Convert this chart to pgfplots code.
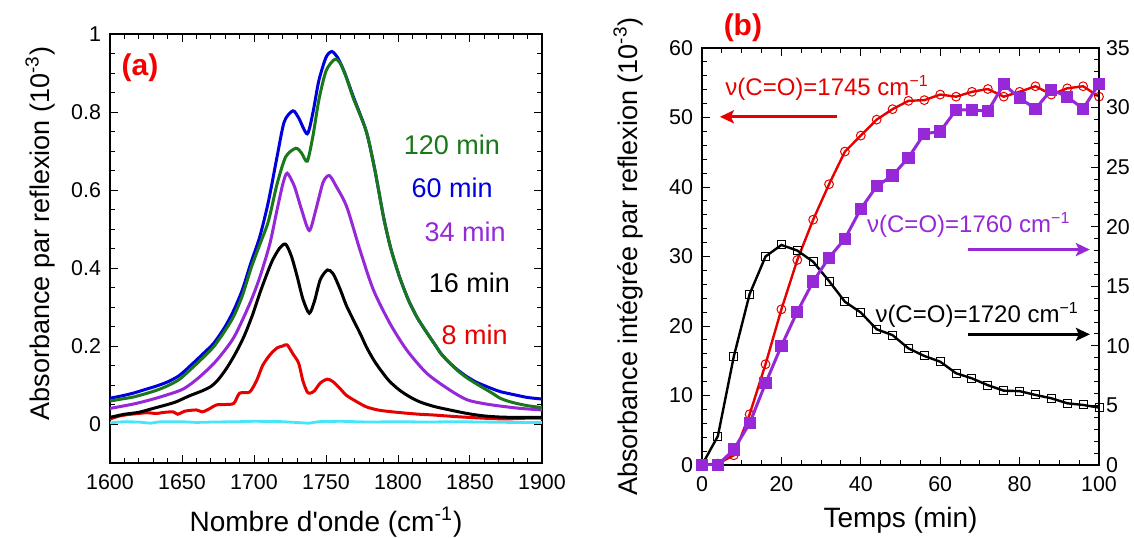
\documentclass[border=0pt]{standalone}
\usepackage{fontspec}
\setmainfont{Liberation Sans}
\usepackage{pgfplots}
\pgfplotsset{compat=1.18}
\usetikzlibrary{arrows.meta}
\definecolor{cblue}{RGB}{0,0,220}
\definecolor{cgreen}{RGB}{25,120,25}
\definecolor{cpurple}{RGB}{150,40,215}
\definecolor{cred}{RGB}{230,0,0}
\definecolor{ccyan}{RGB}{70,230,250}
\definecolor{lred}{RGB}{245,0,0}
\pgfplotsset{
  common/.style={
    scale only axis,
    anchor=south west,
    /pgf/number format/assume math mode=true,
    /pgf/number format/1000 sep={},
    tick align=inside,
    major tick length=4pt,
    minor tick length=2.3pt,
    every tick/.style={black, line width=0.5pt},
    axis line style={line width=0.6pt},
    tick label style={font=\fontsize{10.7}{12}\selectfont},
    yticklabel style={xshift=-1pt},
    xticklabel style={yshift=-2pt},
    xlabel style={font=\fontsize{14}{16}\selectfont},
    ylabel style={font=\fontsize{13.5}{15}\selectfont},
  }
}
\begin{document}
\begin{tikzpicture}
\path[use as bounding box] (0,0) rectangle (567pt,268.5pt);
% ---------------- panel (a)
\begin{axis}[common,
  at={(55pt,37pt)}, width=216pt, height=214.5pt,
  xmin=1600, xmax=1900, ymin=-0.1, ymax=1,
  xtick={1600,1650,...,1900}, minor x tick num=4,
  ytick={0,0.2,0.4,0.6,0.8,1}, minor y tick num=3,
  xlabel={Nombre d\textquotesingle onde (cm\textsuperscript{-1})},
  ylabel={Absorbance par reflexion (10\textsuperscript{-3})},
  xlabel style={at={(axis description cs:0.5,-0.1375)}, anchor=center},
  ylabel style={at={(axis description cs:-0.162,0.535)}, anchor=center},
  every axis plot/.append style={line width=1.5pt, smooth, tension=0.45},
]
\addplot[ccyan, line width=1.4pt, sharp plot] coordinates {
(1600,0.003)(1610,0.006)(1620,0.005)(1628,0.002)(1635,0.006)(1650,0.006)(1660,0.004)(1670,0.005)(1690,0.006)(1700,0.007)(1720,0.006)(1738,0.002)(1745,0.006)(1760,0.007)(1780,0.005)(1800,0.006)(1820,0.005)(1840,0.006)(1860,0.005)(1880,0.004)(1900,0.004)};
\addplot[cred] coordinates {
(1600,0.013)(1606,0.020)(1612,0.024)(1620,0.027)(1626,0.029)(1632,0.027)(1638,0.030)(1644,0.031)(1647,0.025)(1652,0.033)(1660,0.036)(1664,0.031)(1668,0.037)(1674,0.049)(1680,0.050)(1686,0.053)(1690,0.079)(1697,0.082)(1702,0.113)(1706,0.150)(1711,0.177)(1716,0.195)(1720,0.200)(1723,0.203)(1727,0.180)(1731,0.156)(1734,0.110)(1737,0.082)(1739,0.079)(1742,0.085)(1746,0.105)(1751,0.115)(1755,0.108)(1760,0.090)(1764,0.074)(1770,0.060)(1778,0.044)(1786,0.036)(1794,0.032)(1805,0.028)(1815,0.025)(1825,0.023)(1840,0.019)(1859,0.015)(1875,0.013)(1890,0.015)(1900,0.015)};
\addplot[black] coordinates {
(1600,0.017)(1610,0.025)(1620,0.030)(1630,0.040)(1640,0.050)(1646,0.057)(1655,0.072)(1664,0.085)(1670,0.096)(1675,0.113)(1681,0.143)(1687,0.180)(1693,0.224)(1699,0.280)(1704,0.335)(1709,0.385)(1713,0.421)(1718,0.452)(1722,0.461)(1726,0.430)(1730,0.378)(1734,0.320)(1738.4,0.284)(1742,0.315)(1746,0.370)(1751,0.395)(1755,0.385)(1760,0.344)(1764,0.305)(1769,0.267)(1774,0.230)(1778,0.198)(1783,0.165)(1788,0.138)(1794,0.110)(1801,0.087)(1808,0.070)(1815,0.057)(1825,0.045)(1836,0.036)(1848,0.027)(1859,0.021)(1870,0.018)(1880,0.017)(1890,0.017)(1900,0.017)};
\addplot[cpurple] coordinates {
(1600,0.040)(1616,0.051)(1628,0.062)(1639,0.074)(1651,0.090)(1662,0.120)(1674,0.163)(1686,0.222)(1697,0.308)(1704,0.376)(1711,0.462)(1716,0.549)(1720,0.615)(1723,0.643)(1728,0.610)(1733,0.550)(1738.4,0.496)(1743,0.550)(1748,0.620)(1752.3,0.637)(1757,0.610)(1764.4,0.557)(1773.6,0.446)(1782.9,0.344)(1794.4,0.258)(1806,0.190)(1820,0.130)(1836,0.087)(1848,0.062)(1860,0.052)(1871,0.046)(1885,0.040)(1900,0.036)};
\addplot[cblue] coordinates {
(1600,0.066)(1608,0.072)(1616,0.079)(1624,0.088)(1632,0.097)(1640,0.108)(1648,0.124)(1656,0.150)(1664,0.178)(1672,0.207)(1680,0.250)(1686,0.292)(1692,0.345)(1698,0.415)(1704,0.480)(1710,0.570)(1716,0.685)(1721,0.775)(1727,0.803)(1731,0.785)(1737,0.744)(1741,0.800)(1745,0.880)(1750,0.940)(1754,0.955)(1758,0.940)(1763,0.900)(1769,0.839)(1778,0.750)(1784,0.650)(1790,0.530)(1795,0.450)(1801,0.378)(1807,0.320)(1813,0.275)(1819,0.240)(1825,0.207)(1830,0.180)(1836,0.156)(1842,0.137)(1848,0.121)(1854,0.108)(1859,0.100)(1865,0.091)(1871,0.083)(1877,0.078)(1882,0.074)(1890,0.068)(1900,0.064)};
\addplot[cgreen] coordinates {
(1600,0.059)(1608,0.064)(1616,0.069)(1624,0.077)(1632,0.086)(1640,0.098)(1648,0.114)(1656,0.140)(1664,0.168)(1672,0.198)(1680,0.240)(1686,0.277)(1692,0.330)(1698,0.400)(1704,0.460)(1710,0.520)(1716,0.615)(1722,0.685)(1729,0.707)(1733,0.695)(1737,0.674)(1741,0.740)(1745,0.830)(1750,0.905)(1756,0.935)(1760,0.925)(1764,0.890)(1769,0.835)(1778,0.750)(1784,0.650)(1790,0.530)(1795,0.450)(1801,0.378)(1807,0.320)(1813,0.275)(1819,0.240)(1825,0.207)(1830,0.180)(1836,0.156)(1842,0.135)(1848,0.118)(1854,0.104)(1859,0.093)(1865,0.080)(1871,0.066)(1877,0.058)(1882,0.053)(1890,0.047)(1900,0.042)};
\node[text=lred, font=\fontsize{15}{17}\selectfont\bfseries] at (axis cs:1620.8,0.913) {(a)};
\begin{scope}[every node/.style={anchor=east, inner sep=0pt, font=\fontsize{13.5}{15}\selectfont}]
\node[text=cgreen] at (axis cs:1871,0.715) {120 min};
\node[text=cblue] at (axis cs:1866,0.605) {60 min};
\node[text=cpurple] at (axis cs:1875,0.492) {34 min};
\node[text=black] at (axis cs:1878,0.362) {16 min};
\node[text=cred] at (axis cs:1876.5,0.228) {8 min};
\end{scope}
\end{axis}
% ---------------- panel (b), left axis
\begin{axis}[common,
  at={(351pt,36pt)}, width=198.5pt, height=208.5pt,
  xmin=0, xmax=100, ymin=0, ymax=60,
  xtick={0,20,...,100}, minor x tick num=3,
  ytick={0,10,...,60}, minor y tick num=4,
  xtick pos=both, ytick pos=left,
  clip=false,
  xlabel={Temps (min)},
  ylabel={Absorbance intégrée par reflexion (10\textsuperscript{-3})},
  xlabel style={at={(axis description cs:0.5,-0.132)}, anchor=center},
  ylabel style={at={(axis description cs:-0.186,0.5)}, anchor=center},
]
\addplot[cred, line width=1.2pt, mark=o, mark size=2.2pt, mark options={line width=0.5pt}] coordinates {
(0,0)(4,0.2)(8,1.4)(12,7.3)(16,14.5)(20,22.4)(24,29.5)(28,35.3)(32,40.4)(36,45.1)(40,47.4)(44,49.7)(48,51.2)(52,52.4)(56,52.5)(60,53.3)(64,53.0)(68,53.7)(72,54.1)(76,53.0)(80,53.7)(84,54.5)(88,53.3)(92,54.2)(96,54.5)(100,53.0)};
\begin{scope}[every node/.style={anchor=west, inner sep=0pt, font=\fontsize{12}{14}\selectfont}]
\node[text=cred] at (axis cs:5.8,54.2) {ν(C=O)=1745 cm\textsuperscript{−1}};
\node[text=cpurple] at (axis cs:41.5,34.5) {ν(C=O)=1760 cm\textsuperscript{−1}};
\node[text=black] at (axis cs:43.6,21.6) {ν(C=O)=1720 cm\textsuperscript{−1}};
\end{scope}
\draw[cred, line width=1.5pt, -{Stealth[length=7pt,width=6.5pt,inset=1.5pt]}] (axis cs:34,50.1) -- (axis cs:4.5,50.1);
\draw[cpurple, line width=1.5pt, -{Stealth[length=7pt,width=6.5pt,inset=1.5pt]}] (axis cs:67.1,31.0) -- (axis cs:97.7,31.0);
\draw[black, line width=1.5pt, -{Stealth[length=7pt,width=6.5pt,inset=1.5pt]}] (axis cs:67.1,18.8) -- (axis cs:97.7,18.8);
\node[text=lred, font=\fontsize{15}{17}\selectfont\bfseries] at (axis cs:10.3,62.9) {(b)};
\end{axis}
% ---------------- panel (b), right axis
\begin{axis}[common,
  at={(351pt,36pt)}, width=198.5pt, height=208.5pt,
  xmin=0, xmax=100, ymin=0, ymax=35,
  axis x line=none, axis y line*=right,
  ytick={0,5,...,35}, minor y tick num=4,
  tick align=inside,
  yticklabel style={xshift=1pt},
]
\addplot[black, line width=1.2pt, mark=square, mark size=2pt, mark options={line width=0.5pt}] coordinates {
(0,0)(4,2.43)(8,9.1)(12,14.35)(16,17.5)(20,18.47)(24,18.0)(28,17.06)(32,15.44)(36,13.7)(40,12.8)(44,11.39)(48,10.9)(52,9.79)(56,9.15)(60,8.67)(64,7.7)(68,7.27)(72,6.7)(76,6.24)(80,6.2)(84,5.88)(88,5.6)(92,5.18)(96,5.04)(100,4.82)};
\addplot[cpurple, line width=1.5pt, mark=square*, mark size=2.3pt] coordinates {
(0,0)(4,0)(8,1.3)(12,3.5)(16,6.86)(20,10.0)(24,12.87)(28,15.4)(32,17.4)(36,19.0)(40,21.5)(44,23.4)(48,24.3)(52,25.8)(56,27.8)(60,28.0)(64,29.8)(68,29.8)(72,29.7)(76,31.95)(80,30.8)(84,29.9)(88,31.5)(92,30.9)(96,29.9)(100,32.0)};
\end{axis}
\end{tikzpicture}
\end{document}
